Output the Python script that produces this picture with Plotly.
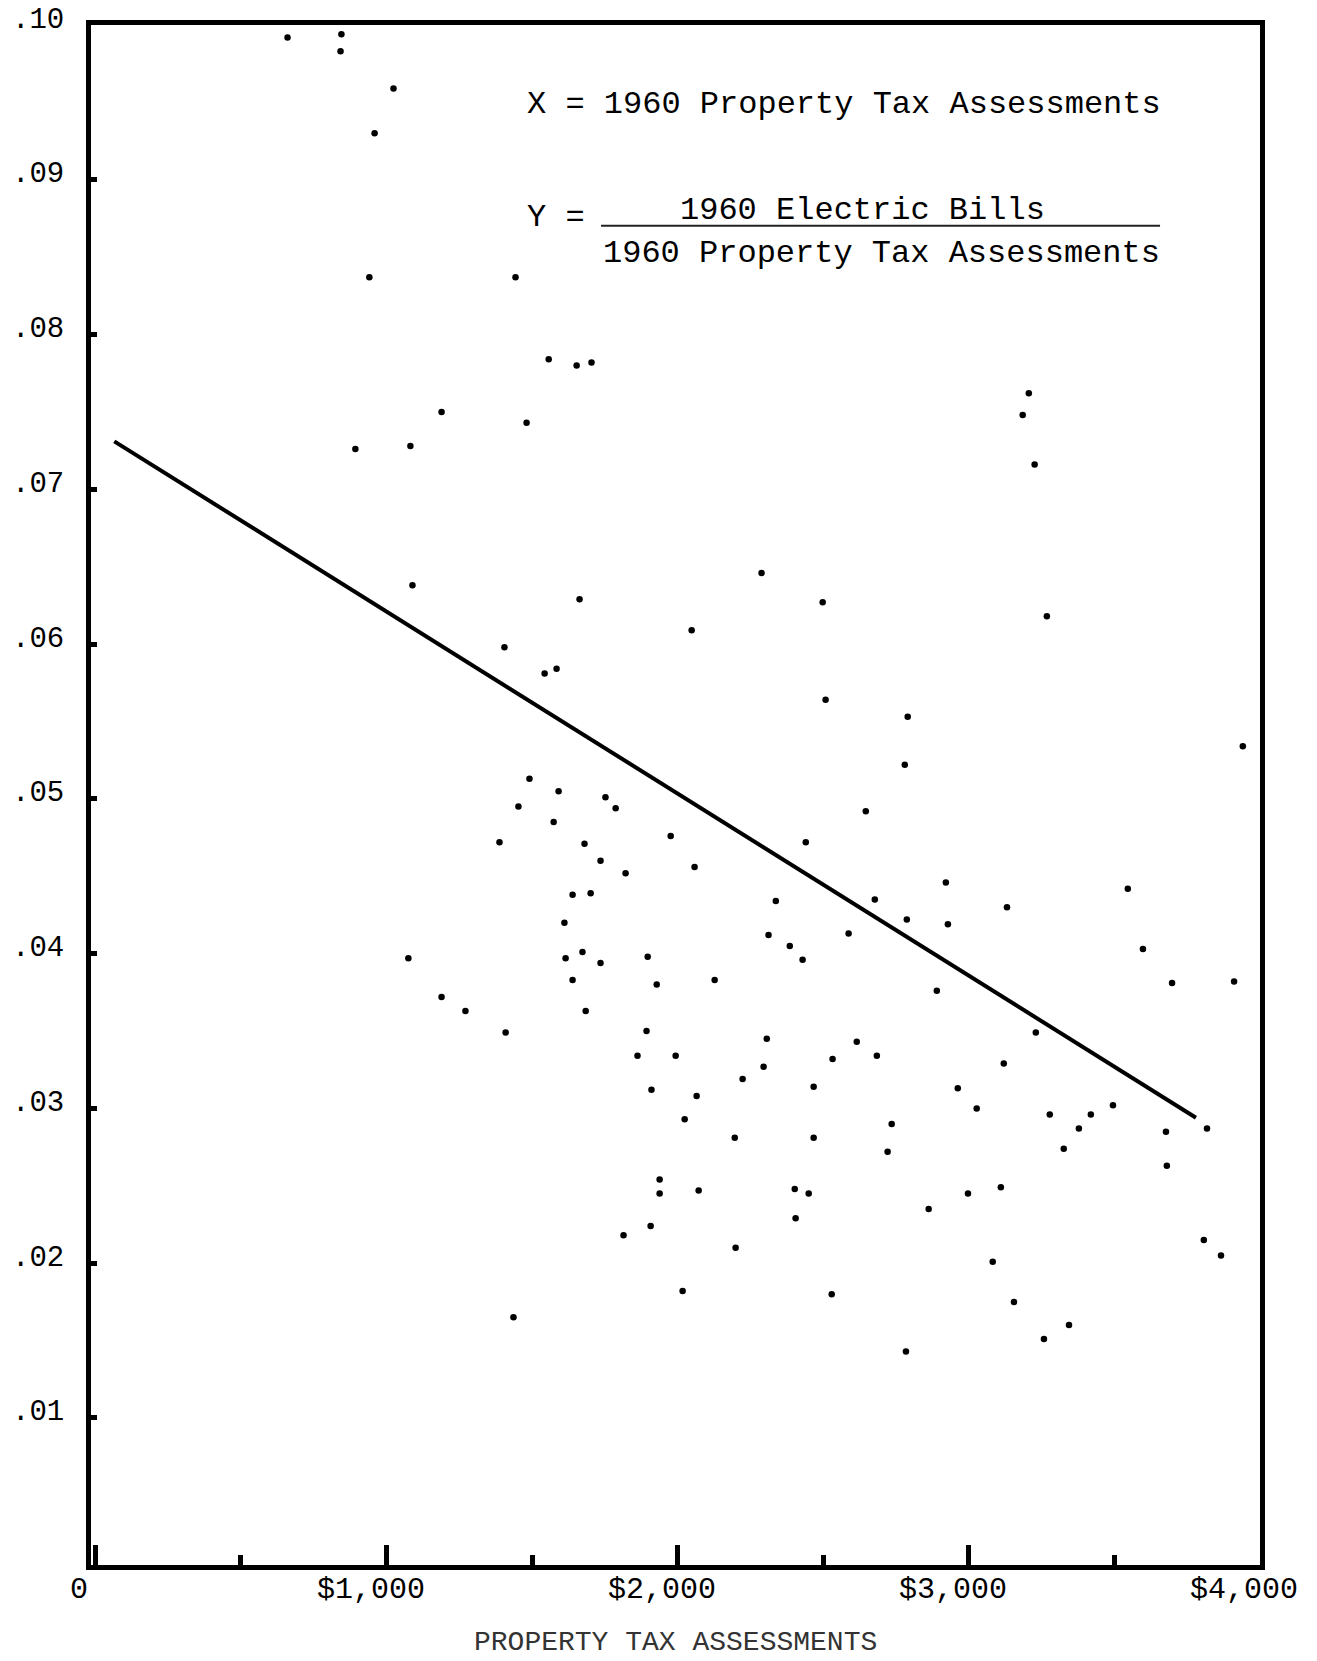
import plotly.graph_objects as go

# --- Data ---
prop_tax = [660, 845, 842, 1024, 959, 941, 1189, 893, 1082, 1443,
            1557, 1653, 1704, 1481, 3206, 3185, 1089, 1663, 2288, 2498,
            2048, 1405, 1543, 1584, 2508, 1491, 1591, 1453, 1574, 1752,
            1787, 2646, 1388, 1680, 1976, 2440, 1735, 1821, 2058, 3226,
            3268, 2790, 2780, 3941, 1075, 1189, 1639, 1701, 1611, 2337,
            2677, 2312, 2587, 2385, 2429, 1615, 1673, 1735, 1897, 1639,
            1928, 2127, 1271, 1684, 1409, 1893, 2306, 2615, 1862, 1993,
            2532, 2684, 2295, 2223, 2467, 1910, 2065, 2024, 2735, 2196,
            2467, 2721, 1938, 1938, 2072, 2402, 2450, 2405, 1814, 1907,
            2199, 2017, 2529, 2921, 3546, 2787, 3131, 2928, 3598, 3698,
            3911, 2890, 3230, 3120, 2962, 3027, 3278, 3419, 3495, 3378,
            3326, 3677, 3818, 3680, 2997, 3110, 2862, 3807, 3866, 3082,
            3155, 1436, 2784, 3258, 3344]

ratio = [0.0992, 0.0994, 0.0983, 0.0959, 0.0930, 0.0837, 0.0750, 0.0726, 0.0728, 0.0837,
         0.0784, 0.0780, 0.0782, 0.0743, 0.0762, 0.0748, 0.0638, 0.0629, 0.0646, 0.0627,
         0.0609, 0.0598, 0.0581, 0.0584, 0.0564, 0.0513, 0.0505, 0.0495, 0.0485, 0.0501,
         0.0494, 0.0492, 0.0472, 0.0471, 0.0476, 0.0472, 0.0460, 0.0452, 0.0456, 0.0716,
         0.0618, 0.0553, 0.0522, 0.0534, 0.0397, 0.0372, 0.0438, 0.0439, 0.0420, 0.0434,
         0.0435, 0.0412, 0.0413, 0.0405, 0.0396, 0.0397, 0.0401, 0.0394, 0.0398, 0.0383,
         0.0380, 0.0383, 0.0363, 0.0363, 0.0349, 0.0350, 0.0345, 0.0343, 0.0334, 0.0334,
         0.0332, 0.0334, 0.0327, 0.0319, 0.0314, 0.0312, 0.0308, 0.0293, 0.0290, 0.0281,
         0.0281, 0.0272, 0.0254, 0.0245, 0.0247, 0.0248, 0.0245, 0.0229, 0.0218, 0.0224,
         0.0210, 0.0182, 0.0180, 0.0446, 0.0442, 0.0422, 0.0430, 0.0419, 0.0403, 0.0381,
         0.0382, 0.0376, 0.0349, 0.0329, 0.0313, 0.0300, 0.0296, 0.0296, 0.0302, 0.0287,
         0.0274, 0.0285, 0.0287, 0.0263, 0.0245, 0.0249, 0.0235, 0.0215, 0.0205, 0.0201,
         0.0175, 0.0165, 0.0143, 0.0151, 0.0160]

# Regression line end points
line_x = [65, 3780]
line_y = [0.0731, 0.0294]

# Tick labels
y_tick_vals = [0.10, 0.09, 0.08, 0.07, 0.06, 0.05, 0.04, 0.03, 0.02, 0.01]
y_tick_text = [".10", ".09", ".08", ".07", ".06", ".05", ".04", ".03", ".02", ".01"]
x_tick_vals = [0, 1000, 2000, 3000, 4000]
x_tick_text = ["0", "$1,000", "$2,000", "$3,000", "$4,000"]

FONT = "Liberation Mono, Courier New, monospace"

fig = go.Figure()
fig.add_trace(go.Scatter(x=prop_tax, y=ratio, mode="markers",
                         marker=dict(size=6.5, color="black"), hoverinfo="x+y"))
fig.add_trace(go.Scatter(x=line_x, y=line_y, mode="lines",
                         line=dict(color="black", width=4)))

annotations = []
for v, t in zip(y_tick_vals, y_tick_text):
    annotations.append(dict(x=0, xref="paper", y=v, yref="y", text=t, showarrow=False,
                            xanchor="right", yanchor="middle", xshift=-25, yshift=5,
                            font=dict(family=FONT, size=29, color="#000")))
for v, t in zip(x_tick_vals, x_tick_text):
    annotations.append(dict(x=v, xref="x", y=-0.0162, yref="paper", text=t, showarrow=False,
                            xanchor="center", yanchor="middle", xshift=-16,
                            font=dict(family=FONT, size=30, color="#000")))

annotations += [
    dict(x=0.3713, y=0.9481, xref="paper", yref="paper", text="X = 1960 Property Tax Assessments",
         showarrow=False, xanchor="left", yanchor="middle", font=dict(family=FONT, size=32, color="#000")),
    dict(x=0.3713, y=0.8748, xref="paper", yref="paper", text="Y =",
         showarrow=False, xanchor="left", yanchor="middle", font=dict(family=FONT, size=32, color="#000")),
    dict(x=0.5021, y=0.8793, xref="paper", yref="paper", text="1960 Electric Bills",
         showarrow=False, xanchor="left", yanchor="middle", font=dict(family=FONT, size=32, color="#000")),
    dict(x=0.4363, y=0.8514, xref="paper", yref="paper", text="1960 Property Tax Assessments",
         showarrow=False, xanchor="left", yanchor="middle", font=dict(family=FONT, size=32, color="#000")),
    dict(x=0.5, y=-0.0506, xref="paper", yref="paper", text="PROPERTY TAX ASSESSMENTS",
         showarrow=False, xanchor="center", yanchor="middle", font=dict(family=FONT, size=28, color="#333")),
]

fig.update_layout(
    width=1317, height=1661,
    margin=dict(l=91, r=57, t=25, b=96),
    paper_bgcolor="white", plot_bgcolor="white",
    showlegend=False,
    annotations=annotations,
    shapes=[dict(type="line", xref="paper", yref="paper", x0=0.4363, x1=0.9145,
                 y0=0.8696, y1=0.8696, line=dict(color="#222", width=2))],
)
fig.update_xaxes(range=[-15, 4000], showgrid=False, zeroline=False,
                 showline=True, linecolor="black", linewidth=5, mirror=True,
                 tickmode="linear", tick0=0, dtick=1000, ticks="inside", ticklen=20,
                 tickwidth=5, tickcolor="black", showticklabels=False,
                 minor=dict(tick0=0, dtick=500, ticks="inside", ticklen=10,
                            tickwidth=5, tickcolor="black"))
fig.update_yaxes(range=[0.0005, 0.1], showgrid=False, zeroline=False,
                 showline=True, linecolor="black", linewidth=5, mirror=True,
                 tickmode="array", tickvals=y_tick_vals, ticks="inside", ticklen=6,
                 tickwidth=5, tickcolor="black", showticklabels=False)

fig.write_html("out.html", config={"displayModeBar": False},
               post_script="document.body.style.margin='0';document.body.style.overflow='hidden';")
